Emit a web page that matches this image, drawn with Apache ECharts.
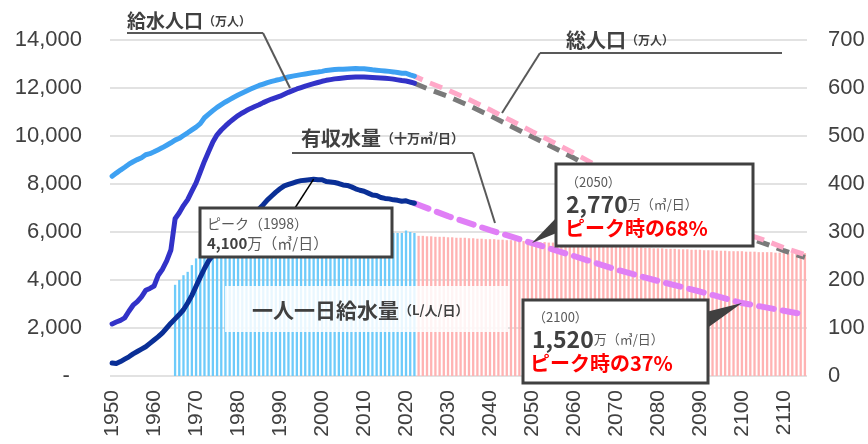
<!DOCTYPE html>
<html><head><meta charset="utf-8">
<script src="https://cdn.jsdelivr.net/npm/echarts@6/dist/echarts.min.js"></script>
<style>html,body{margin:0;padding:0;background:#fff}#c{width:868px;height:444px}</style>
</head><body><div id="c"></div>
<script>
const startYear = 1950, endYear = 2115;
const years = [];
for (let y = startYear; y <= endYear; y++) years.push(String(y));

// 総人口 (万人) 1950-2022
const totalPop = [8320,8454,8581,8698,8824,8928,9017,9093,9218,9264,
  9342,9429,9518,9616,9718,9828,9904,10020,10133,10254,
  10372,10515,10760,10910,11057,11194,11309,11417,11519,11616,
  11706,11790,11873,11954,12031,12105,12166,12224,12275,12321,
  12361,12410,12457,12494,12527,12557,12586,12616,12649,12669,
  12693,12732,12749,12769,12779,12777,12790,12803,12808,12803,
  12806,12783,12759,12741,12724,12710,12693,12671,12644,12617,
  12615,12550,12495];
// 給水人口 (万人) 1950-2022
const supplyPop = [2170,2250,2320,2420,2700,2950,3100,3300,3570,3650,
  3750,4200,4450,4800,5250,6550,6800,7100,7350,7700,
  8050,8500,8950,9350,9750,10050,10250,10420,10580,10720,
  10850,10960,11060,11150,11230,11300,11390,11470,11540,11600,
  11660,11740,11820,11890,11960,12020,12080,12130,12180,12230,
  12280,12320,12350,12380,12400,12420,12440,12450,12460,12460,
  12460,12450,12440,12430,12420,12410,12390,12370,12340,12310,
  12290,12250,12200];
// 有収水量 (十万㎥/日) 1950-2022
const revenueWater = [27,26,30,35,40,46,51,56,61,68,
  75,82,90,100,110,119,128,138,152,168,
  187,206,224,240,252,263,273,283,292,300,
  308,316,324,332,340,348,357,367,375,383,
  390,396,399,402,405,407,408,409,410,409,
  409,405,404,403,401,398,397,394,390,387,
  385,381,377,376,372,370,369,367,366,364,
  365,362,360];
// 一人一日給水量 (L/人/日) 1965-2022
const perCapita = [190,200,210,217,231,245,250,251,252,253,
  255,257,259,261,263,265,267,270,272,275,
  278,281,284,287,290,293,295,297,298,299,
  300,301,302,302,302,301,301,300,300,300,
  299,299,299,298,298,298,298,297,297,297,
  297,297,298,298,298,303,300,298];
// 一人一日給水量 推計 2023-2115
const perCapitaProj = [292,292,291,291,290,290,290,289,289,288,
  288,288,287,287,286,286,285,285,285,284,
  284,283,283,282,282,281,281,280,280,279,
  279,278,278,277,277,276,276,275,275,274,
  274,273,273,272,272,271,271,270,270,269,
  269,268,268,268,267,267,266,266,266,265,
  265,265,264,264,264,263,263,263,262,262,
  262,261,261,261,260,260,260,260,259,259,
  259,258,258,258,258,257,257,257,257,256,
  256,256,256];
// 推計 (年, 値)
const totalPopProj = [[2022,12495],[2025,12254],[2030,11913],[2035,11522],[2040,11092],[2045,10642],
  [2050,10192],[2055,9744],[2060,9284],[2065,8808],[2070,8323],[2075,7847],[2080,7382],
  [2085,6937],[2090,6512],[2095,6210],[2100,5972],[2105,5680],[2110,5343],[2115,5056]];
const supplyPopProj = [[2022,12200],[2025,11980],[2030,11650],[2035,11270],[2040,10850],[2045,10410],
  [2050,9970],[2055,9530],[2060,9080],[2065,8610],[2070,8140],[2075,7670],[2080,7220],
  [2085,6780],[2090,6370],[2095,6070],[2100,5840],[2105,5550],[2110,5220],[2115,4940]];
const revenueWaterProj = [[2022,360],[2030,333],[2040,304],[2050,277],[2060,250],[2070,222],
  [2080,198],[2090,176],[2100,152],[2110,136],[2115,128]];

const leftTicks = {min:0, max:14000, interval:2000};
const rightTicks = {min:0, max:700, interval:100};

function place(arr, fromYear) {
  const out = years.map(() => null);
  arr.forEach((v, i) => { out[fromYear - startYear + i] = v; });
  return out;
}
function placePairs(pairs) {
  const out = years.map(() => null);
  pairs.forEach(([y, v]) => { out[y - startYear] = v; });
  return out;
}
function comma(v) { return String(v).replace(/\B(?=(\d{3})+(?!\d))/g, ','); }

const chart = echarts.init(document.getElementById('c'), null, {renderer:'canvas'});
const numFont = 'Liberation Sans, Arial, sans-serif';
const jpFont = 'Noto Sans CJK JP, sans-serif';

chart.setOption({
  animation: false,
  backgroundColor: '#ffffff',
  grid: {left:110, right:61, top:40, bottom:68},
  xAxis: {
    type:'category', data: years, boundaryGap: true,
    axisLine:{show:false}, axisTick:{show:false},
    axisLabel:{rotate:90, margin:14, fontSize:21, color:'#404040', fontFamily:numFont,
      interval:(i, v) => Number(v) % 10 === 0}
  },
  yAxis: [
    {type:'value', min:leftTicks.min, max:leftTicks.max, interval:leftTicks.interval,
     axisLine:{show:false}, axisTick:{show:false},
     axisLabel:{margin:28, fontSize:22, color:'#404040', fontFamily:numFont,
       formatter: v => v === 0 ? '-  ' : comma(v)},
     splitLine:{lineStyle:{color:'#d9d9d9', width:1.5}}},
    {type:'value', min:rightTicks.min, max:rightTicks.max, interval:rightTicks.interval,
     axisLine:{show:false}, axisTick:{show:false},
     axisLabel:{margin:21, fontSize:22, color:'#404040', fontFamily:numFont},
     splitLine:{show:false}}
  ],
  series: [
    {name:'一人一日給水量', type:'bar', yAxisIndex:1, data:place(perCapita,1965),
     barWidth:'55%', barGap:'-100%', itemStyle:{color:'#6ecbfa'}, z:1},
    {name:'一人一日給水量推計', type:'bar', yAxisIndex:1, data:place(perCapitaProj,2023),
     barWidth:'55%', barGap:'-100%', itemStyle:{color:'#ffb3b3'}, z:1},
    {name:'給水人口推計', type:'line', data:placePairs(supplyPopProj), connectNulls:true, symbol:'none',
     lineStyle:{color:'#7a7a7a', width:5, type:[13,8], cap:'butt'}, z:3},
    {name:'総人口推計', type:'line', data:placePairs(totalPopProj), connectNulls:true, symbol:'none',
     lineStyle:{color:'#ffa8c8', width:5, type:[13,8], dashOffset:4, cap:'butt'}, z:4},
    {name:'有収水量推計', type:'line', yAxisIndex:1, data:placePairs(revenueWaterProj), connectNulls:true, symbol:'none',
     lineStyle:{color:'#e07ff6', width:6, type:[15,9], cap:'round'}, z:4},
    {name:'総人口', type:'line', data:place(totalPop,1950), symbol:'none',
     lineStyle:{color:'#3ea1f2', width:5, cap:'round', join:'round'}, z:5},
    {name:'給水人口', type:'line', data:place(supplyPop,1950), symbol:'none',
     lineStyle:{color:'#3232c8', width:5, cap:'round', join:'round'}, z:5},
    {name:'有収水量', type:'line', yAxisIndex:1, data:place(revenueWater,1950), symbol:'none',
     lineStyle:{color:'#0a2f96', width:5, cap:'round', join:'round'}, z:5}
  ]
});

function px(year, value, axisIdx) {
  return chart.convertToPixel({xAxisIndex:0, yAxisIndex:axisIdx}, [String(year), value]);
}
const peakPt = px(1998, 410, 1);
const p2050 = px(2050, 277, 1);
const p2100 = px(2100, 152, 1);

const lead = {stroke:'#595959', lineWidth:2};
const boxStyle = {fill:'#ffffff', stroke:'#404040', lineWidth:3};
const G = [];
function txt(x, y, text, rich) {
  G.push({type:'text', z:100, style:{x, y, text, rich, verticalAlign:'middle', fontFamily:jpFont}});
}
function ln(x1,y1,x2,y2,style){ G.push({type:'line', z:99, shape:{x1,y1,x2,y2}, style}); }

// 給水人口 label
txt(127, 21, '{a|給水人口}{b|（万人）}', {
  a:{fontSize:19, fontWeight:'bold', fill:'#404040', fontFamily:jpFont},
  b:{fontSize:12, fontWeight:'bold', fill:'#404040', fontFamily:jpFont}});
ln(127,33,263,33,lead); ln(263,33,290,88,lead);
// 総人口 label
txt(566, 40, '{a|総人口}{b|（万人）}', {
  a:{fontSize:20, fontWeight:'bold', fill:'#404040', fontFamily:jpFont},
  b:{fontSize:12, fontWeight:'bold', fill:'#404040', fontFamily:jpFont}});
ln(540,53,782,53,lead); ln(540,53,502,113,lead);
// 有収水量 label
txt(301, 138, '{a|有収水量}{b|（十万㎥/日）}', {
  a:{fontSize:20, fontWeight:'bold', fill:'#404040', fontFamily:jpFont},
  b:{fontSize:13, fontWeight:'bold', fill:'#404040', fontFamily:jpFont}});
ln(292,153,473,153,lead); ln(473,153,495,223,lead);
// 一人一日給水量 label
G.push({type:'rect', z:98, shape:{x:225,y:286,width:283,height:46}, style:{fill:'rgba(255,255,255,0.85)'}});
txt(252, 310, '{a|一人一日給水量}{b|（L/人/日）}', {
  a:{fontSize:21, fontWeight:'bold', fill:'#404040', fontFamily:jpFont},
  b:{fontSize:13, fontWeight:'bold', fill:'#404040', fontFamily:jpFont}});

// Peak callout
ln(295,208,peakPt[0],peakPt[1],{stroke:'#000000', lineWidth:1.5});
G.push({type:'rect', z:99, shape:{x:200,y:208,width:192,height:49}, style:boxStyle});
txt(207, 224, '{a|ピーク（1998）}', {a:{fontSize:14, fill:'#595959', fontFamily:jpFont}});
txt(207, 243, '{b|4,100}{c|万（㎥/日）}', {
  b:{fontSize:15, fontWeight:'bold', fill:'#404040', fontFamily:jpFont},
  c:{fontSize:15, fill:'#595959', fontFamily:jpFont}});

// 2050 callout
G.push({type:'polygon', z:99, shape:{points:[[559,215],[559,232],[p2050[0],p2050[1]]]}, style:{fill:'#404040'}});
G.push({type:'rect', z:99, shape:{x:556,y:164,width:197,height:82}, style:boxStyle});
txt(566, 182, '{a|（2050）}', {a:{fontSize:13, fill:'#595959', fontFamily:jpFont}});
txt(566, 204, '{b|2,770}{c|万（㎥/日）}', {
  b:{fontSize:23, fontWeight:'bold', fill:'#404040', fontFamily:jpFont},
  c:{fontSize:13, fill:'#595959', fontFamily:jpFont}});
txt(565, 228, '{r|ピーク時の68%}', {r:{fontSize:20, fontWeight:'bold', fill:'#ff0000', fontFamily:jpFont}});

// 2100 callout
G.push({type:'polygon', z:99, shape:{points:[[706,312],[706,329],[p2100[0],p2100[1]]]}, style:{fill:'#404040'}});
G.push({type:'rect', z:99, shape:{x:523,y:300,width:185,height:83}, style:boxStyle});
txt(533, 317, '{a|（2100）}', {a:{fontSize:13, fill:'#595959', fontFamily:jpFont}});
txt(532, 339, '{b|1,520}{c|万（㎥/日）}', {
  b:{fontSize:23, fontWeight:'bold', fill:'#404040', fontFamily:jpFont},
  c:{fontSize:13, fill:'#595959', fontFamily:jpFont}});
txt(530, 363, '{r|ピーク時の37%}', {r:{fontSize:20, fontWeight:'bold', fill:'#ff0000', fontFamily:jpFont}});

chart.setOption({graphic: G});
</script>
</body></html>
